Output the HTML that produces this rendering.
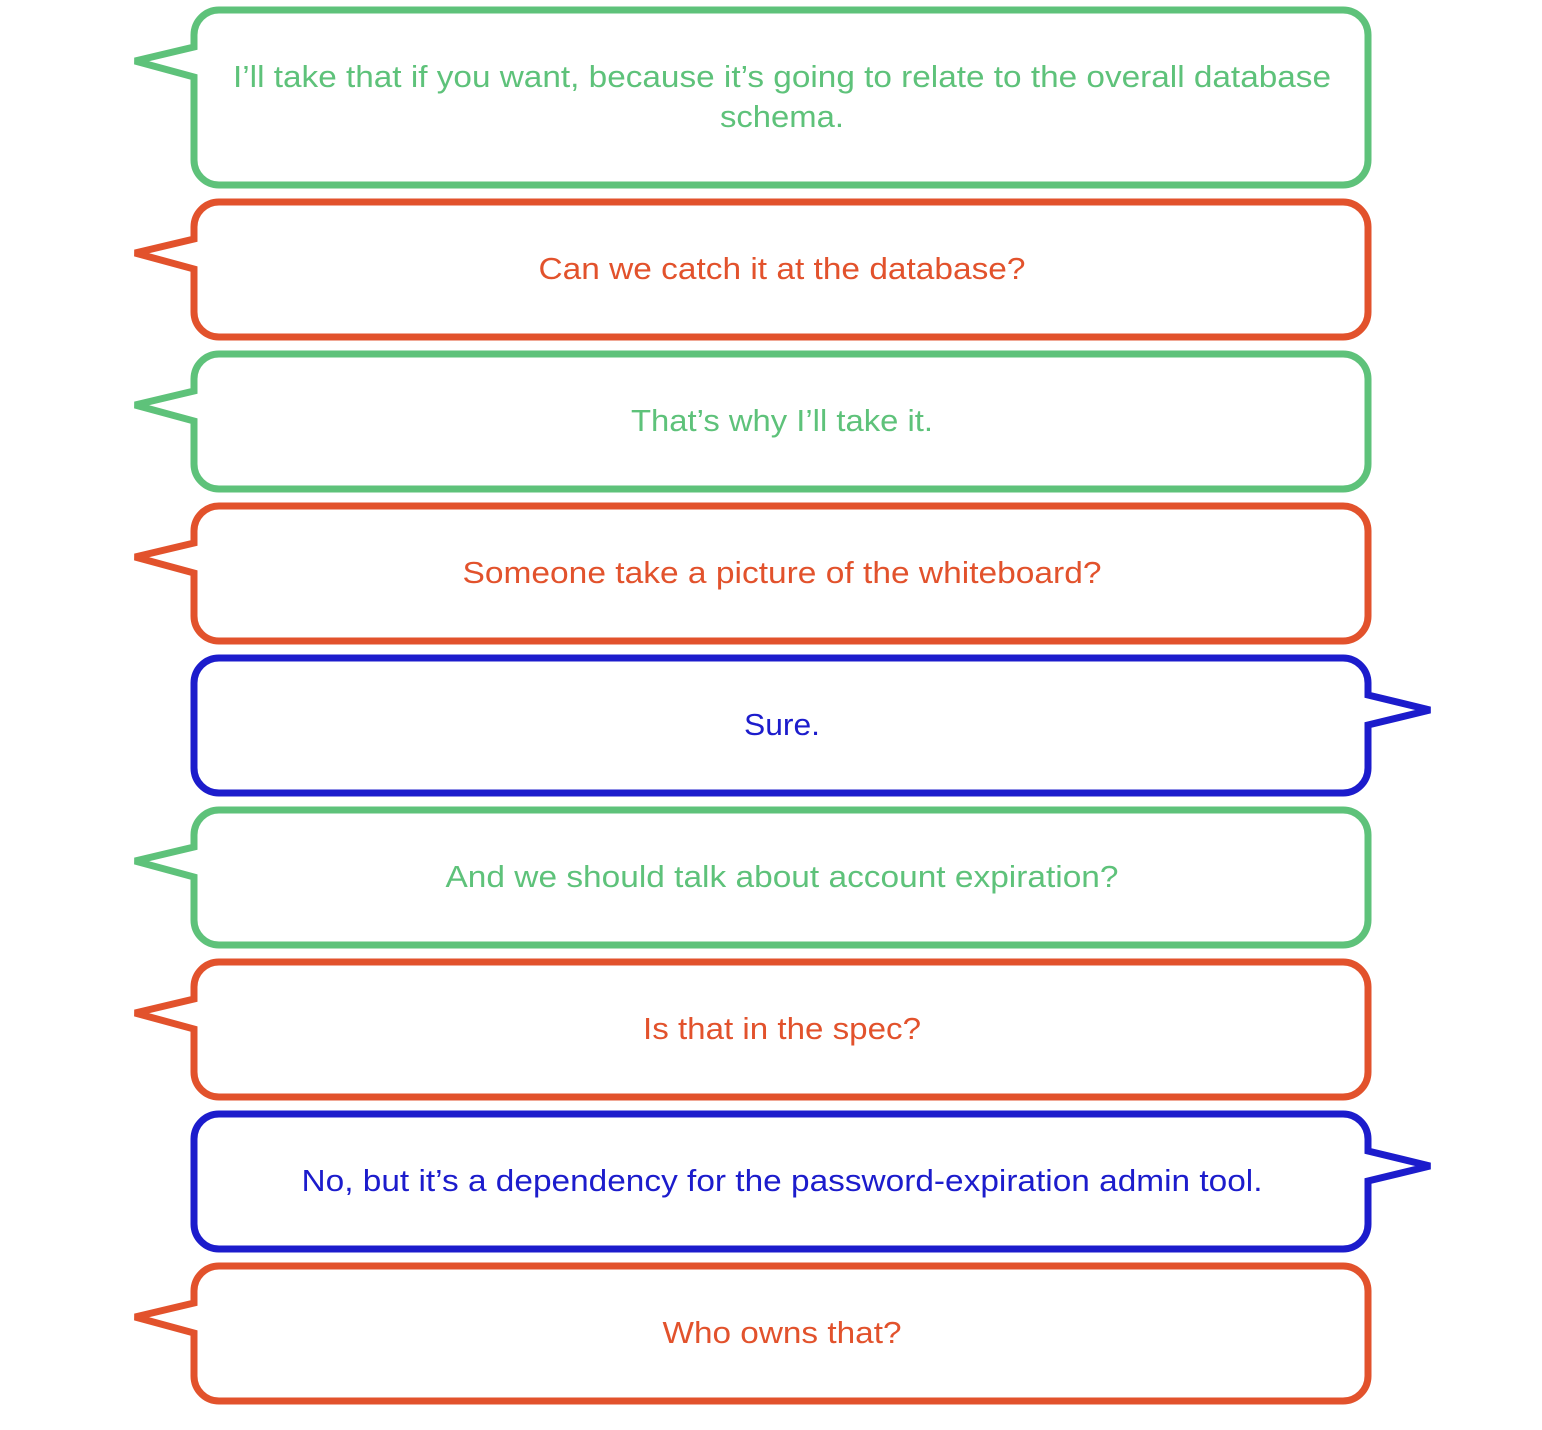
<!DOCTYPE html>
<html><head><meta charset="utf-8"><style>
html,body{margin:0;padding:0;background:#fff;}
svg{display:block}
text{font-family:"Liberation Sans",sans-serif;font-size:31px;text-anchor:middle;}
</style></head><body>
<svg width="1542" height="1430" viewBox="0 0 1542 1430" xmlns="http://www.w3.org/2000/svg">
<g fill="none" stroke-width="7" stroke-linejoin="miter">
<path stroke="#5ec27a" d="M219,10 H1343 A25,25 0 0 1 1368,35 V160 A25,25 0 0 1 1343,185 H219 A25,25 0 0 1 194,160 V77 L135,61 L194,47 V35 A25,25 0 0 1 219,10 Z"/>
<path stroke="#e2522c" d="M219,202 H1343 A25,25 0 0 1 1368,227 V312 A25,25 0 0 1 1343,337 H219 A25,25 0 0 1 194,312 V269 L135,253 L194,239 V227 A25,25 0 0 1 219,202 Z"/>
<path stroke="#5ec27a" d="M219,354 H1343 A25,25 0 0 1 1368,379 V464 A25,25 0 0 1 1343,489 H219 A25,25 0 0 1 194,464 V421 L135,405 L194,391 V379 A25,25 0 0 1 219,354 Z"/>
<path stroke="#e2522c" d="M219,506 H1343 A25,25 0 0 1 1368,531 V616 A25,25 0 0 1 1343,641 H219 A25,25 0 0 1 194,616 V573 L135,557 L194,543 V531 A25,25 0 0 1 219,506 Z"/>
<path stroke="#1c1ccc" d="M219,658 H1343 A25,25 0 0 1 1368,683 V695 L1430,710 L1368,725 V768 A25,25 0 0 1 1343,793 H219 A25,25 0 0 1 194,768 V683 A25,25 0 0 1 219,658 Z"/>
<path stroke="#5ec27a" d="M219,810 H1343 A25,25 0 0 1 1368,835 V920 A25,25 0 0 1 1343,945 H219 A25,25 0 0 1 194,920 V877 L135,861 L194,847 V835 A25,25 0 0 1 219,810 Z"/>
<path stroke="#e2522c" d="M219,962 H1343 A25,25 0 0 1 1368,987 V1072 A25,25 0 0 1 1343,1097 H219 A25,25 0 0 1 194,1072 V1029 L135,1013 L194,999 V987 A25,25 0 0 1 219,962 Z"/>
<path stroke="#1c1ccc" d="M219,1114 H1343 A25,25 0 0 1 1368,1139 V1151 L1430,1166 L1368,1181 V1224 A25,25 0 0 1 1343,1249 H219 A25,25 0 0 1 194,1224 V1139 A25,25 0 0 1 219,1114 Z"/>
<path stroke="#e2522c" d="M219,1266 H1343 A25,25 0 0 1 1368,1291 V1376 A25,25 0 0 1 1343,1401 H219 A25,25 0 0 1 194,1376 V1333 L135,1317 L194,1303 V1291 A25,25 0 0 1 219,1266 Z"/>
</g>
<text x="782" y="87" fill="#5ec27a" textLength="1098" lengthAdjust="spacingAndGlyphs">I’ll take that if you want, because it’s going to relate to the overall database</text>
<text x="782" y="127" fill="#5ec27a" textLength="124" lengthAdjust="spacingAndGlyphs">schema.</text>
<text x="782" y="279" fill="#e2522c" textLength="487" lengthAdjust="spacingAndGlyphs">Can we catch it at the database?</text>
<text x="782" y="431" fill="#5ec27a" textLength="302" lengthAdjust="spacingAndGlyphs">That’s why I’ll take it.</text>
<text x="782" y="583" fill="#e2522c" textLength="639" lengthAdjust="spacingAndGlyphs">Someone take a picture of the whiteboard?</text>
<text x="782" y="735" fill="#1c1ccc" textLength="76" lengthAdjust="spacingAndGlyphs">Sure.</text>
<text x="782" y="887" fill="#5ec27a" textLength="673" lengthAdjust="spacingAndGlyphs">And we should talk about account expiration?</text>
<text x="782" y="1039" fill="#e2522c" textLength="278" lengthAdjust="spacingAndGlyphs">Is that in the spec?</text>
<text x="782" y="1191" fill="#1c1ccc" textLength="961" lengthAdjust="spacingAndGlyphs">No, but it’s a dependency for the password-expiration admin tool.</text>
<text x="782" y="1343" fill="#e2522c" textLength="239" lengthAdjust="spacingAndGlyphs">Who owns that?</text>
</svg>
</body></html>
